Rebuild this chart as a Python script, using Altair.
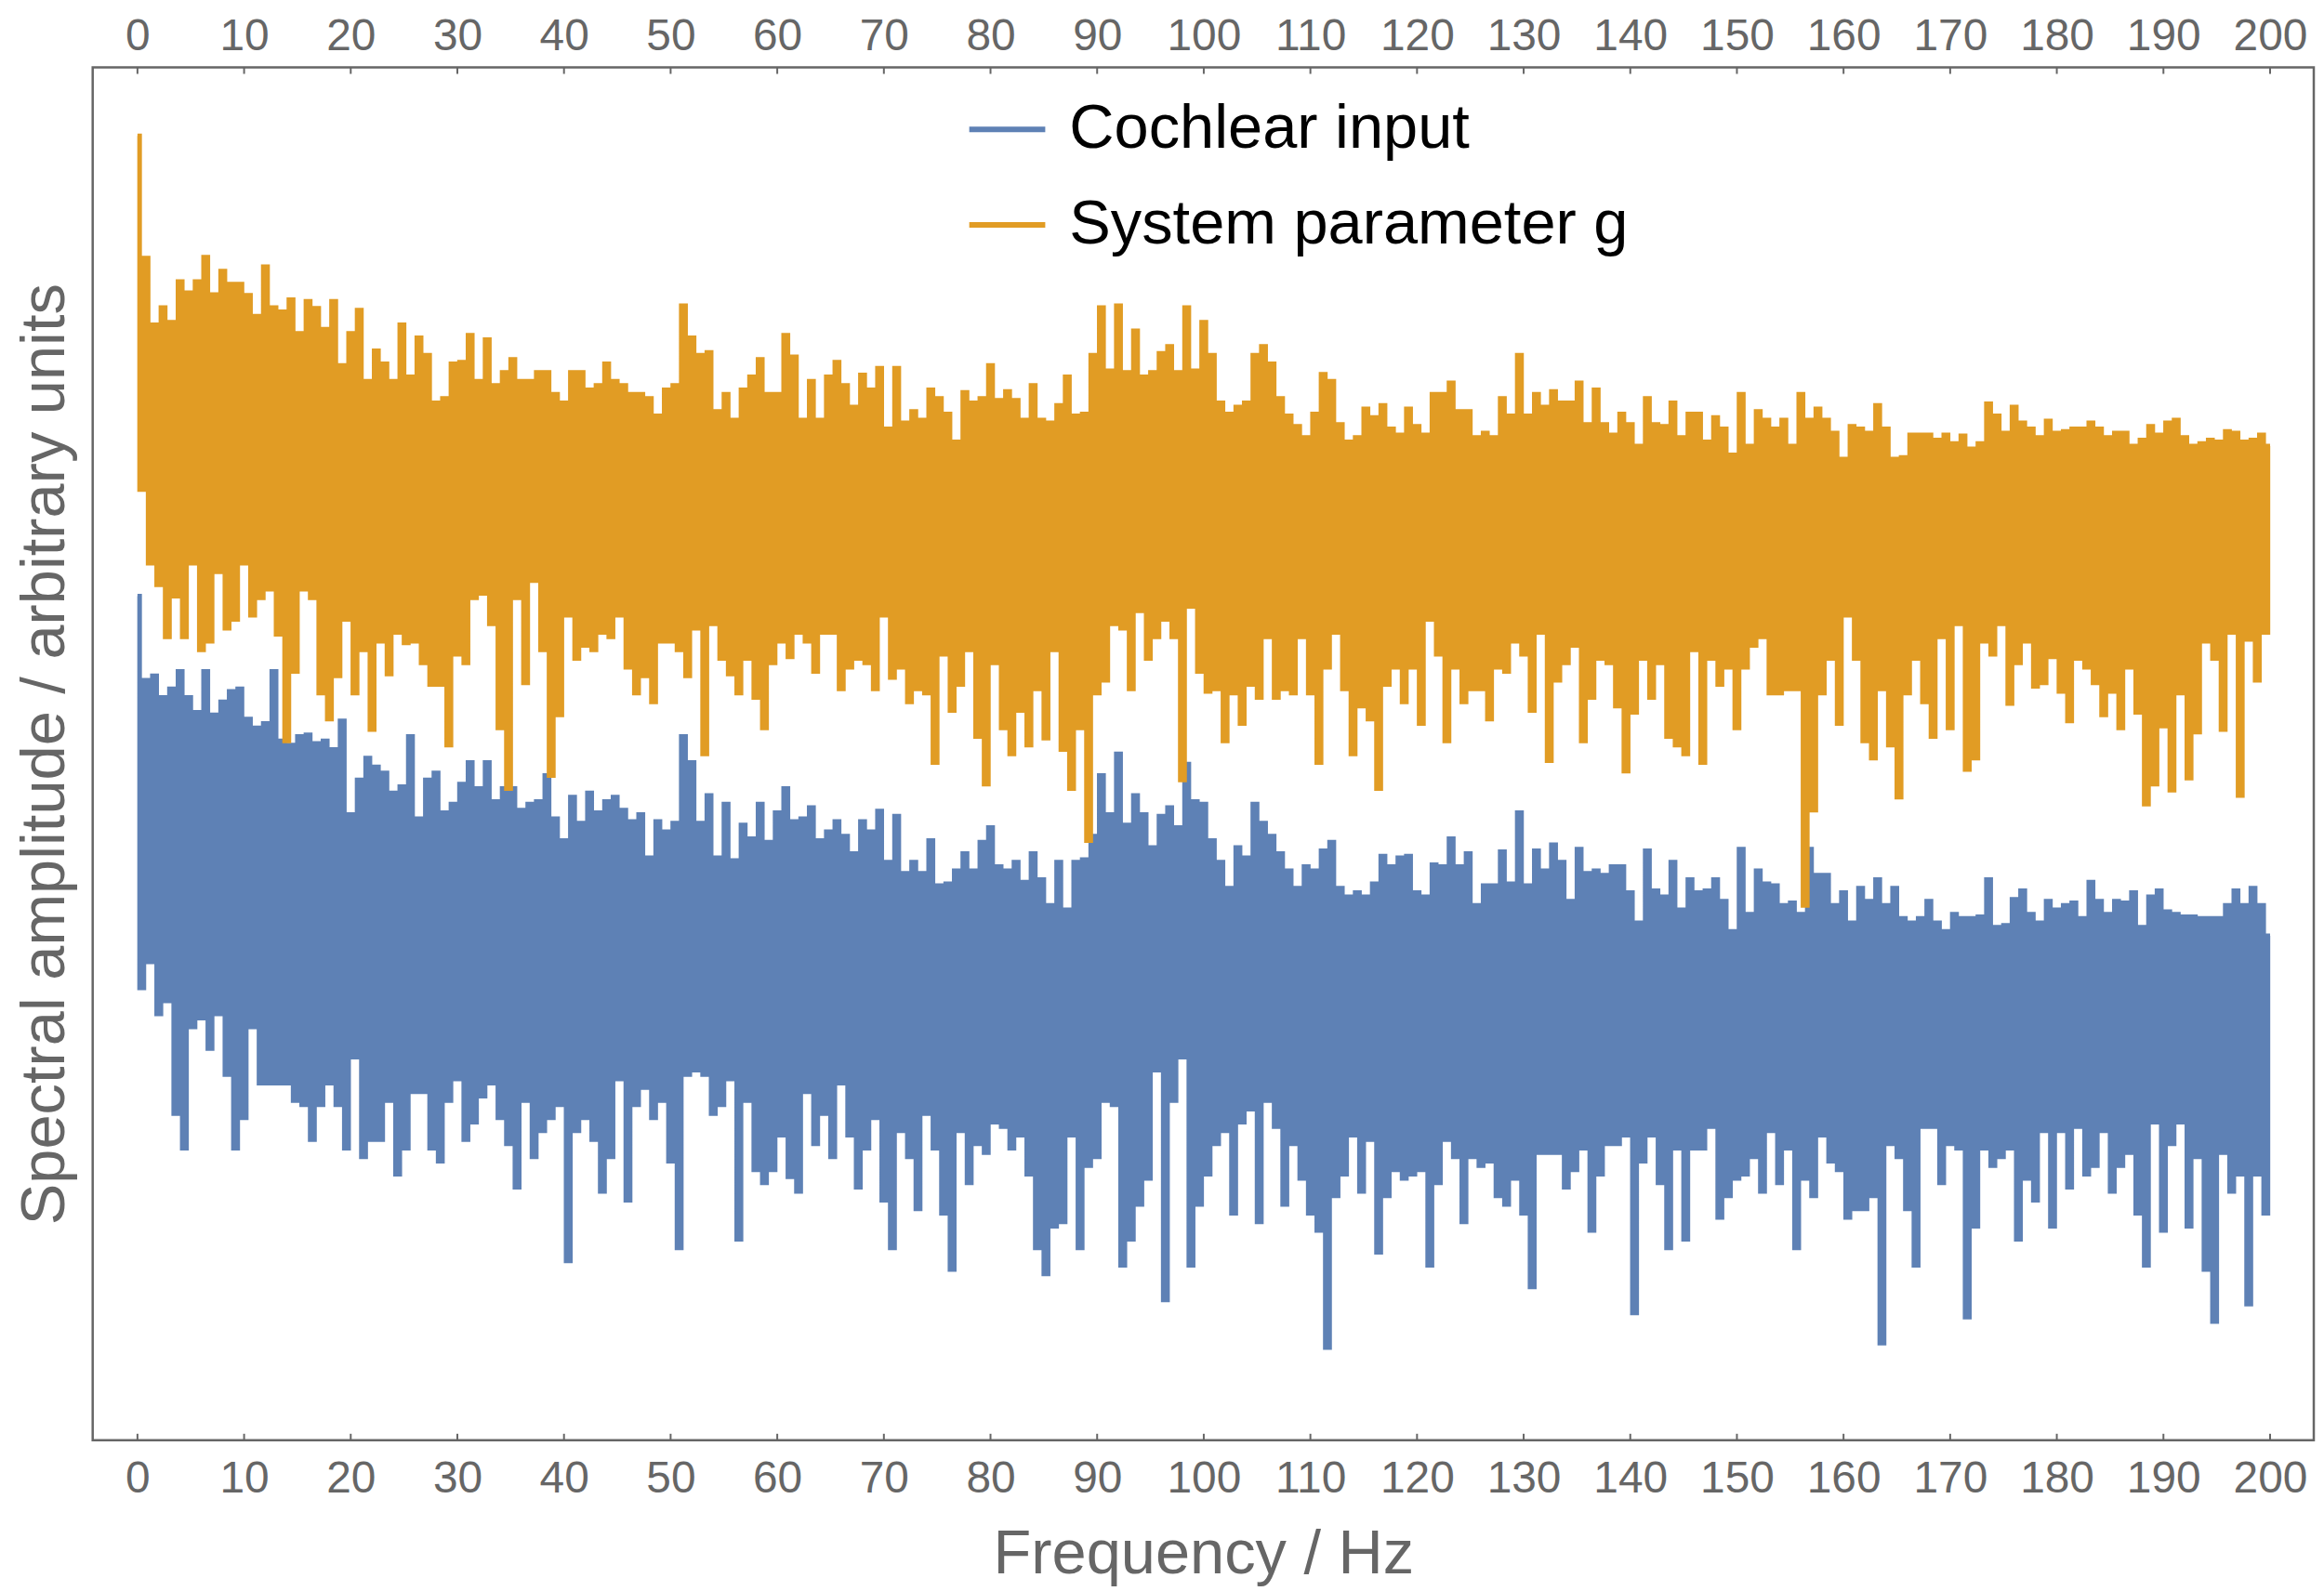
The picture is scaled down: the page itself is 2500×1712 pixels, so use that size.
import altair as alt
import pandas as pd

# ---------------- data (arbitrary amplitude units) ----------------
# Peaks are local maxima at f = 0, 0.8, 1.6, ... Hz ; troughs are local minima at f = 0.4, 1.2, ... Hz
ORANGE_PEAKS = [
    1553, 1412, 1335, 1355, 1338, 1385, 1372, 1385, 1413, 1370,
    1397, 1382, 1382, 1369, 1345, 1402, 1355, 1350, 1364, 1325,
    1362, 1354, 1330, 1362, 1288, 1325, 1352, 1270, 1305, 1290,
    1270, 1335, 1275, 1320, 1300, 1245, 1250, 1290, 1292, 1323,
    1270, 1318, 1265, 1280, 1295, 1270, 1270, 1280, 1280, 1255,
    1245, 1280,
    1280, 1260, 1265, 1290, 1270, 1265, 1255, 1255, 1250, 1230,
    1260, 1265, 1357, 1320, 1300, 1303, 1235, 1255, 1225, 1260,
    1275, 1295, 1255, 1255, 1323, 1298, 1225, 1270, 1225, 1275,
    1292, 1265, 1240, 1277, 1260, 1285, 1215, 1285, 1222, 1235,
    1225, 1260, 1250, 1232, 1200, 1257, 1245, 1250, 1288, 1248,
    1258, 1248, 1225, 1265,
    1225, 1222, 1242, 1275, 1230, 1232, 1300, 1355, 1282, 1357,
    1280, 1328, 1275, 1280, 1302, 1310, 1280, 1355, 1282, 1338,
    1300, 1245, 1232, 1240, 1245, 1300, 1310, 1290, 1250, 1230,
    1218, 1205, 1232, 1278, 1270, 1220, 1200, 1205, 1238, 1228,
    1242, 1215, 1208, 1238, 1218, 1208, 1255, 1255, 1268, 1235,
    1235, 1205, 1210, 1205, 1250,
    1230, 1300, 1230, 1255, 1240, 1258, 1245, 1245, 1268, 1220,
    1260, 1220, 1208, 1232, 1220, 1195, 1250, 1220, 1218, 1245,
    1205, 1232, 1232, 1200, 1228, 1215, 1185, 1255, 1195, 1235,
    1225, 1215, 1225, 1195, 1255, 1225, 1238, 1225, 1210, 1180,
    1218, 1215, 1210, 1242, 1215, 1180, 1182, 1208, 1208, 1208,
    1202, 1208,
    1198, 1207, 1192, 1198, 1244, 1230, 1210, 1240, 1222, 1215,
    1205, 1224, 1210, 1212, 1215, 1215, 1222, 1215, 1205, 1210,
    1210, 1195, 1202, 1218, 1208, 1222, 1225, 1205, 1195, 1198,
    1202, 1200, 1212, 1210, 1200, 1202, 1208, 1195,
]
ORANGE_TROUGHS = [
    1145, 1060, 1035, 975, 1022, 975, 1060, 960, 970, 1050,
    985, 995, 1060, 1000, 1020, 1030, 978, 855, 935, 1030,
    1020, 910, 880, 930, 995, 910, 960, 868, 970, 932,
    980, 968, 970, 945, 920, 920, 850, 955, 945, 1020,
    1025, 990, 870, 800, 1020, 922, 1040, 960, 815, 885,
    1000,
    950, 965, 960, 980, 975, 1000, 940, 910, 930, 900,
    970, 970, 960, 930, 985, 840, 990, 950, 932, 910,
    950, 905, 870, 945, 970, 952, 980, 970, 935, 980,
    980, 915, 940, 950, 945, 915, 1000, 928, 940, 900,
    915, 910, 830, 955, 890, 920, 960, 860, 805, 945,
    870, 840, 890, 850,
    915, 858, 960, 845, 800, 870, 740, 910, 925, 990,
    985, 915, 1005, 950, 975, 995, 975, 810, 1010, 935,
    912, 915, 855, 910, 875, 920, 905, 975, 905, 915,
    910, 975, 910, 830, 940, 980, 915, 840, 895, 880,
    800, 920, 940, 900, 940, 875, 995, 955, 855, 940,
    900, 915, 915, 880, 940,
    935, 970, 955, 890, 980, 832, 925, 945, 965, 855,
    905, 950, 945, 895, 820, 888, 950, 905, 945, 860,
    850, 840, 960, 830, 950, 920, 940, 870, 940, 965,
    975, 910, 910, 915, 915, 665, 775, 910, 950, 875,
    1000, 950, 855, 835, 915, 850, 790, 910, 950, 900,
    860, 975,
    870, 990, 822, 835, 970, 955, 990, 898, 945, 970,
    918, 922, 952, 912, 878, 950, 940, 922, 885, 912,
    870, 940, 888, 782, 805, 872, 798, 910, 812, 865,
    970, 950, 868, 980, 792, 972, 925, 980,
]
BLUE_PEAKS = [
    1022, 925, 930, 905, 915, 935, 905, 888, 935, 885,
    900, 912, 915, 880, 870, 875, 935, 855, 850, 860,
    862, 852, 855, 845, 878, 770, 810, 835, 825, 818,
    795, 802, 860, 765, 810, 818, 772, 782, 805, 830,
    800, 830, 785, 800, 800, 775, 782, 785, 815, 765,
    740, 790,
    760, 795, 772, 785, 790, 775, 762, 770, 720, 762,
    750, 760, 860, 830, 760, 792, 720, 782, 717, 758,
    742, 782, 738, 772, 800, 762, 765, 778, 740, 750,
    762, 745, 725, 762, 750, 774, 715, 768, 702, 715,
    702, 740, 688, 690, 705, 725, 705, 738, 755, 710,
    705, 715, 692, 725,
    695, 665, 715, 660, 715, 718, 745, 815, 770, 840,
    758, 792, 770, 732, 768, 778, 755, 828, 785, 782,
    740, 715, 685, 732, 720, 782, 760, 745, 725, 705,
    685, 710, 705, 728, 738, 685, 675, 680, 675, 690,
    722, 710, 720, 722, 680, 675, 712, 710, 742, 710,
    725, 665, 688, 688, 727,
    690, 772, 688, 728, 705, 735, 715, 670, 730, 702,
    705, 700, 710, 710, 680, 645, 728, 682, 675, 715,
    660, 695, 680, 682, 695, 670, 635, 730, 655, 705,
    690, 688, 665, 668, 655, 730, 700, 700, 665, 680,
    645, 685, 670, 695, 665, 685, 650, 645, 650, 670,
    645, 635,
    655, 650, 650, 652, 695, 640, 642, 672, 682, 655,
    645, 670, 660, 665, 668, 650, 692, 670, 655, 670,
    668, 680, 640, 675, 682, 658, 655, 652, 652, 650,
    650, 650, 665, 682, 665, 685, 665, 630,
]
BLUE_TROUGHS = [
    570, 600, 540, 555, 425, 385, 525, 535, 500, 540,
    470, 385, 420, 525, 460, 460, 460, 460, 440, 435,
    395, 435, 460, 435, 385, 490, 375, 395, 395, 440,
    355, 385, 450, 450, 385, 370, 440, 465, 395, 415,
    445, 460, 420, 390, 340, 440, 375, 405, 420, 435,
    255,
    405, 420, 395, 335, 375, 465, 325, 435, 455, 420,
    440, 370, 270, 470, 475, 470, 425, 435, 465, 280,
    440, 360, 345, 360, 400, 352, 335, 450, 390, 425,
    375, 460, 400, 340, 385, 420, 325, 270, 405, 375,
    315, 425, 385, 310, 245, 405, 345, 390, 380, 415,
    410, 385, 400, 355,
    270, 240, 295, 300, 400, 270, 365, 375, 440, 435,
    250, 280, 320, 350, 475, 210, 440, 490, 250, 320,
    355, 390, 405, 310, 415, 430, 300, 440, 410, 320,
    390, 350, 310, 290, 155, 330, 355, 400, 335, 395,
    265, 330, 360, 350, 355, 360, 250, 345, 395, 375,
    300, 375, 365, 370, 330,
    320, 350, 310, 225, 380, 380, 380, 340, 360, 385,
    290, 355, 390, 390, 400, 195, 370, 400, 345, 270,
    385, 280, 385, 385, 410, 305, 330, 350, 355, 375,
    335, 405, 345, 385, 270, 350, 330, 400, 370, 360,
    305, 315, 315, 330, 160, 390, 375, 315, 250, 410,
    410, 345,
    390, 385, 190, 295, 385, 365, 375, 385, 280, 350,
    325, 405, 295, 405, 340, 410, 355, 365, 405, 335,
    365, 380, 310, 250, 415, 290, 390, 415, 295, 375,
    245, 185, 380, 335, 355, 205, 355, 310,
]
SERIES = ["Cochlear input", "System parameter g"]
COLORS = ["#5E81B5", "#E19C24"]
TICKS = list(range(0, 201, 10))
PEAK_STEP = 0.8  # Hz between successive peaks (troughs sit half-way)


def build(name, peaks, troughs):
    rows = []
    for i, p in enumerate(peaks):
        rows.append({"freq": round(PEAK_STEP * i, 3), "amp": p, "series": name})
        if i < len(troughs):
            rows.append({"freq": round(PEAK_STEP * i + PEAK_STEP / 2, 3), "amp": troughs[i], "series": name})
    return pd.DataFrame(rows)


df_blue = build(SERIES[0], BLUE_PEAKS, BLUE_TROUGHS)
df_orange = build(SERIES[1], ORANGE_PEAKS, ORANGE_TROUGHS)
df_ticks = pd.DataFrame({"tick": TICKS})

# ---------------- styling ----------------
FONT = "Liberation Sans, Arial, Helvetica, sans-serif"
GRAY = "#666666"
W, H = 2397, 1482

xs = alt.Scale(domain=[-4.2, 204.1], nice=False, zero=False)
ys = alt.Scale(domain=[48, 1632], nice=False, zero=False)
cs = alt.Scale(domain=SERIES, range=COLORS)

y_axis = alt.Axis(
    title="Spectral amplitude / arbitrary units", labels=False, ticks=False, tickSize=0,
    domain=False, grid=False, titleFont=FONT, titleFontSize=67, titleFontWeight="normal",
    titleColor=GRAY, titlePadding=17,
)
bottom_axis = alt.Axis(
    orient="bottom", values=TICKS, format="d", labelFont=FONT, labelFontSize=48,
    labelColor=GRAY, labelPadding=18, ticks=False, tickSize=0, domain=False, grid=False,
    labelFlush=False, labelOverlap=False, labelBound=False,
    title="Frequency / Hz", titleFont=FONT, titleFontSize=67, titleFontWeight="normal",
    titleColor=GRAY, titlePadding=24,
)
top_axis = alt.Axis(
    orient="top", values=TICKS, format="d", labelFont=FONT, labelFontSize=48,
    labelColor=GRAY, labelPadding=9, ticks=False, tickSize=0, domain=False, grid=False,
    labelFlush=False, labelOverlap=False, labelBound=False, title=None,
)
legend = alt.Legend(
    orient="none", legendX=943, legendY=23, title=None, symbolType="stroke",
    symbolSize=6724, symbolStrokeWidth=6, labelFont=FONT, labelFontSize=67,
    labelColor="black", labelOffset=23, rowPadding=26, padding=0, labelLimit=0,
)

line_style = dict(interpolate="step", strokeWidth=5, clip=True)

blue = alt.Chart(df_blue).mark_line(**line_style).encode(
    x=alt.X("freq:Q", scale=xs, axis=bottom_axis),
    y=alt.Y("amp:Q", scale=ys, axis=y_axis),
    color=alt.Color("series:N", scale=cs, legend=legend),
)
orange = alt.Chart(df_orange).mark_line(**line_style).encode(
    x=alt.X("freq:Q", scale=xs, axis=None),
    y=alt.Y("amp:Q", scale=ys, axis=y_axis),
    color=alt.Color("series:N", scale=cs, legend=legend),
)
top_ticks = alt.Chart(df_ticks).mark_rule(color=GRAY, strokeWidth=2).encode(
    x=alt.X("tick:Q", scale=xs, axis=top_axis),
    y=alt.value(0), y2=alt.value(7),
)
bottom_ticks = alt.Chart(df_ticks).mark_rule(color=GRAY, strokeWidth=2).encode(
    x=alt.X("tick:Q", scale=xs, axis=None),
    y=alt.value(H - 7), y2=alt.value(H),
)

chart = (
    alt.layer(blue, orange, top_ticks, bottom_ticks)
    .resolve_axis(x="independent")
    .properties(
        width=W, height=H,
        autosize=alt.AutoSizeParams(type="none"),
        padding={"left": 92, "top": 62, "right": 3, "bottom": 160},
        background="white",
    )
    .configure_view(stroke=GRAY, strokeWidth=2.5)
)

chart.save("out.html", embed_options={"renderer": "svg", "actions": False})
